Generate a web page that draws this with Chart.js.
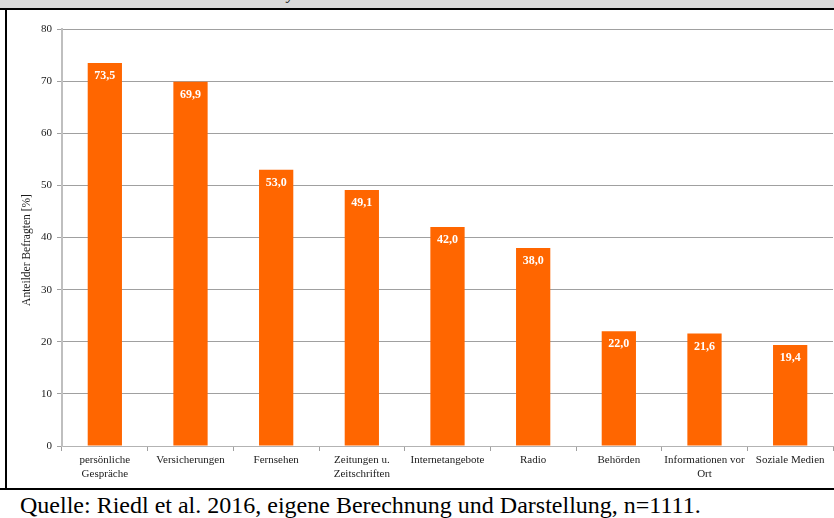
<!DOCTYPE html>
<html lang="de">
<head>
<meta charset="utf-8">
<script src="https://cdn.jsdelivr.net/npm/chart.js@4/dist/chart.umd.min.js"></script>
<style>
  html, body { margin: 0; padding: 0; background: #fff; }
  body { width: 834px; height: 518px; position: relative; overflow: hidden;
         font-family: "Liberation Serif", "Times New Roman", serif; }
  #band { position: absolute; left: 0; top: 0; width: 834px; height: 8px; background: #d9d9d9; overflow: hidden; }
  #band span { position: absolute; left: 287px; top: -14px; font-size: 16px; line-height: 16px;
               font-style: italic; color: #222; }
  #topRule { position: absolute; left: 0; top: 8px; width: 834px; height: 2px; background: #000; }
  #leftRule { position: absolute; left: 5px; top: 8px; width: 2px; height: 482px; background: #000; }
  #bottomRule { position: absolute; left: 0; top: 488px; width: 834px; height: 2px; background: #000; }
  #box { position: absolute; left: 7px; top: 10px; width: 827px; height: 478px; }
  #source { position: absolute; left: 20px; top: 493px; font-size: 24px; line-height: 24px;
            color: #000; white-space: nowrap; }
</style>
</head>
<body>
<div id="band"><span>y</span></div>
<div id="topRule"></div>
<div id="leftRule"></div>
<div id="bottomRule"></div>
<div id="box"><canvas id="chart"></canvas></div>
<div id="source">Quelle: Riedl et al. 2016, eigene Berechnung und Darstellung, n=1111.</div>
<script>
// Informationsquellen: Anteil der Befragten in Prozent
const categories = [
  ["persönliche", "Gespräche"],
  "Versicherungen",
  "Fernsehen",
  ["Zeitungen u.", "Zeitschriften"],
  "Internetangebote",
  "Radio",
  "Behörden",
  ["Informationen vor", "Ort"],
  "Soziale Medien"
];
const shares = [73.5, 69.9, 53.0, 49.1, 42.0, 38.0, 22.0, 21.6, 19.4];
const yTicks = [0, 10, 20, 30, 40, 50, 60, 70, 80];
const axisTitle = "Anteilder Befragten [%]";

const serif = '"Liberation Serif", "Times New Roman", serif';

// Writes each value in white, bold, just inside the top of its bar
const valueLabels = {
  id: 'valueLabels',
  afterDatasetsDraw(chart) {
    const ctx = chart.ctx;
    const meta = chart.getDatasetMeta(0);
    ctx.save();
    ctx.fillStyle = '#ffffff';
    ctx.font = 'bold 12px ' + serif;
    ctx.textAlign = 'center';
    ctx.textBaseline = 'middle';
    meta.data.forEach((bar, i) => {
      const txt = shares[i].toFixed(1).replace('.', ',');
      ctx.fillText(txt, bar.x, bar.y + 13);
    });
    ctx.restore();
  }
};

// Vertical axis title, set a little below the middle of the value range
const yTitle = {
  id: 'yTitle',
  afterDraw(chart) {
    const ctx = chart.ctx;
    const y = chart.scales.y;
    ctx.save();
    ctx.translate(20, y.getPixelForValue(37.6));
    ctx.rotate(-Math.PI / 2);
    ctx.fillStyle = '#1a1a1a';
    ctx.font = '11.5px ' + serif;
    ctx.textAlign = 'center';
    ctx.textBaseline = 'middle';
    ctx.fillText(axisTitle, 0, 0);
    ctx.restore();
  }
};

new Chart(document.getElementById('chart'), {
  type: 'bar',
  data: {
    labels: categories,
    datasets: [{
      data: shares,
      backgroundColor: '#ff6600',
      borderWidth: 0,
      categoryPercentage: 1.0,
      barPercentage: 0.4
    }]
  },
  options: {
    responsive: true,
    maintainAspectRatio: false,
    animation: false,
    events: [],
    layout: { padding: { top: 19, right: 1, bottom: 0, left: 0 } },
    plugins: {
      legend: { display: false },
      tooltip: { enabled: false }
    },
    scales: {
      x: {
        offset: true,
        grid: {
          offset: true,
          drawOnChartArea: false,
          drawTicks: true,
          tickLength: 5,
          color: '#a0a0a0'
        },
        border: { color: '#b3b3b3', width: 1 },
        ticks: {
          color: '#1a1a1a',
          font: { family: serif, size: 11, lineHeight: 1.2 },
          padding: 3,
          maxRotation: 0,
          autoSkip: false
        },
        afterFit(scale) { scale.height = 42; }
      },
      y: {
        min: 0,
        max: 80,
        afterBuildTicks(scale) { scale.ticks = yTicks.map(v => ({ value: v })); },
        grid: {
          color: '#a0a0a0',
          tickLength: 5,
          drawTicks: true
        },
        border: { color: '#bfbfbf', width: 2 },
        ticks: {
          color: '#1a1a1a',
          font: { family: serif, size: 11 },
          padding: 5
        },
        afterFit(scale) { scale.width = 55; }
      }
    }
  },
  plugins: [valueLabels, yTitle]
});
</script>
</body>
</html>
